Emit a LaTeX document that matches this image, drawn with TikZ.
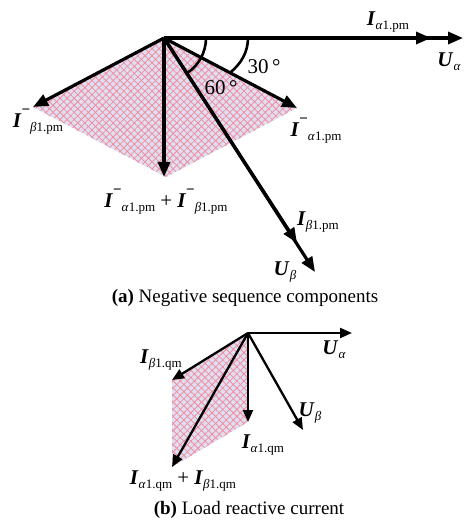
\documentclass[tikz,border=0pt]{standalone}
\usepackage{fontspec}
\setmainfont{Liberation Serif}
\usetikzlibrary{arrows.meta,patterns.meta}
\definecolor{hatchbg}{RGB}{222,224,242}
\definecolor{hatchfg}{RGB}{242,140,160}
\newcommand{\vI}{\textbf{\textit{I}}}
\newcommand{\vU}{\textbf{\textit{U}}}
\newcommand{\sub}[1]{\raisebox{-0.2em}{\fontsize{13}{13}\selectfont #1}}
\newcommand{\sneg}{\raisebox{0.62em}{\fontsize{15}{15}\selectfont\textbf{−}}}
\tikzset{
  vecA/.style={line width=3.2pt,-{Triangle[length=15pt,width=12pt]}},
  vecB/.style={line width=2.3pt,-{Triangle[length=12pt,width=10pt]}},
  hatch/.style={fill=hatchbg},
  hatchl/.style={pattern={Lines[angle=45,distance=5pt,line width=0.8pt]},pattern color=hatchfg},
  hatchr/.style={pattern={Lines[angle=-45,distance=5pt,line width=0.8pt]},pattern color=hatchfg},
  lbl/.style={font=\fontsize{21}{21}\selectfont, inner sep=0pt},
  captxt/.style={font=\fontsize{19}{19}\selectfont, inner sep=0pt},
  angarc/.style={line width=2.6pt}
}
\begin{document}
\begin{tikzpicture}[x=1pt,y=1pt]
\useasboundingbox (0,0) rectangle (464,-526);
% ---------- (a)
\coordinate (O) at (164,-38);
\coordinate (L) at (33,-107);
\coordinate (R) at (297,-108);
\coordinate (D) at (166,-177);
\coordinate (Ia) at (431,-38);
\coordinate (Ua) at (463,-38);
\coordinate (Ib) at (297,-243);
\coordinate (Ub) at (315,-272);
\foreach \s in {hatch,hatchl,hatchr}
  \path[\s] (O) -- (L) -- (D) -- (R) -- cycle;
\draw[vecA] (O) -- (Ua);
\draw[vecA] (O) -- (Ia);
\draw[vecA] (O) -- (Ub);
\draw[vecA] (O) -- (Ib);
\draw[vecA] (O) -- (L);
\draw[vecA] (O) -- (R);
\draw[vecA] (O) -- (164,-177);
\draw[angarc] (248,-38) .. controls (248,-52) and (241,-64) .. (230,-72.7);
\draw[angarc] (O) ++(0:42) arc[start angle=0,end angle=-57,radius=42];
\node[lbl] (t30) at (264,-67) {30\,°};
\node[lbl] (t60) at (221,-88) {60\,°};
\node[lbl] (lIa) at (388,-22) {\vI\sub{\textit{α}1.pm}};
\node[lbl] (lUa) at (449,-62) {\vU\sub{\textit{α}}};
\node[lbl] (lIbn) at (38,-122) {\vI\sneg\sub{\textit{β}1.pm}};
\node[lbl] (lIan) at (316,-131) {\vI\sneg\sub{\textit{α}1.pm}};
\node[lbl] (lsum) at (166,-202) {\vI\sneg\sub{\textit{α}1.pm} + \vI\sneg\sub{\textit{β}1.pm}};
\node[lbl] (lIb) at (318,-222) {\vI\sub{\textit{β}1.pm}};
\node[lbl] (lUb) at (285,-272) {\vU\sub{\textit{β}}};
\node[captxt] (capa) at (245,-298) {\textbf{(a)} Negative sequence components};
% ---------- (b)
\coordinate (O2) at (248,-333);
\coordinate (Ua2) at (352,-333);
\coordinate (Ub2) at (303,-430);
\coordinate (Iaq) at (248,-422);
\coordinate (Ibq) at (172,-380);
\coordinate (Sq) at (172,-467);
\foreach \s in {hatch,hatchl,hatchr}
  \path[\s] (O2) -- (Ibq) -- (Sq) -- (Iaq) -- cycle;
\draw[vecB] (O2) -- (Ua2);
\draw[vecB] (O2) -- (Ub2);
\draw[vecB] (O2) -- (Iaq);
\draw[vecB] (O2) -- (Ibq);
\draw[vecB] (O2) -- (Sq);
\node[lbl] (lUa2) at (334,-350) {\vU\sub{\textit{α}}};
\node[lbl] (lUb2) at (310,-413) {\vU\sub{\textit{β}}};
\node[lbl] (lIbq) at (161,-360) {\vI\sub{\textit{β}1.qm}};
\node[lbl] (lIaq) at (263,-445) {\vI\sub{\textit{α}1.qm}};
\node[lbl] (lsumq) at (183,-481) {\vI\sub{\textit{α}1.qm} + \vI\sub{\textit{β}1.qm}};
\node[captxt] (capb) at (249,-510) {\textbf{(b)} Load reactive current};
\end{tikzpicture}
\end{document}
